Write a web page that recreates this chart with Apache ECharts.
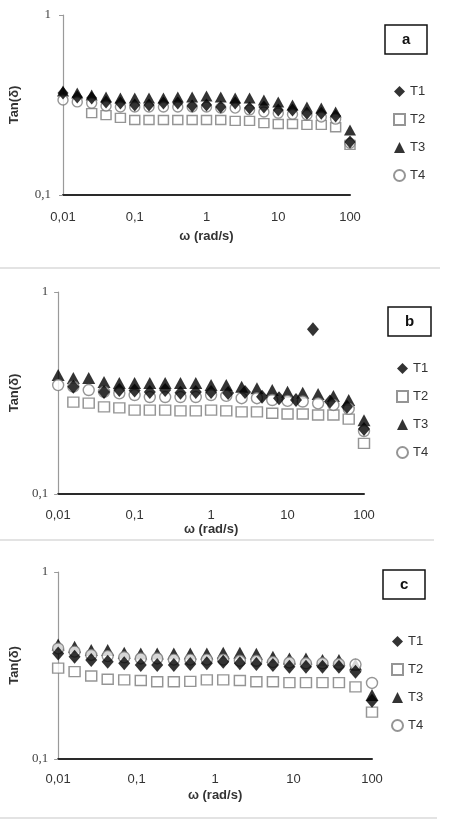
<!DOCTYPE html>
<html>
<head>
<meta charset="utf-8">
<script src="https://cdn.jsdelivr.net/npm/echarts@6/dist/echarts.min.js"></script>
<style>
  html, body { margin: 0; padding: 0; background: #fff; }
  #chart { width: 450px; height: 824px; }
</style>
</head>
<body>
<div id="chart"></div>
<script>
// frequency sweep (rad/s)
var omega = [0.01, 0.0158, 0.0251, 0.0398, 0.0631, 0.1, 0.158, 0.251, 0.398, 0.631, 1, 1.58, 2.51, 3.98, 6.31, 10, 15.8, 25.1, 39.8, 63.1, 100];
var omegaT1b = [0.01, 0.0158, 0.0251, 0.0398, 0.0631, 0.1, 0.158, 0.251, 0.398, 0.631, 1, 1.67, 2.78, 4.64, 7.74, 12.9, 21.5, 35.9, 59.9, 100];
var omegaC = [0.01, 0.0162, 0.0264, 0.0428, 0.0695, 0.113, 0.183, 0.298, 0.483, 0.785, 1.27, 2.07, 3.36, 5.46, 8.86, 14.4, 23.4, 37.9, 61.6, 100];

var seriesNames = ['T1', 'T2', 'T3', 'T4'];
var panelLabels = ['a', 'b', 'c'];
var xTickLabels = ['0,01', '0,1', '1', '10', '100'];
var yTickLabels = ['0,1', '1'];

// panel a
var a_T1 = [0.369, 0.350, 0.346, 0.329, 0.324, 0.316, 0.316, 0.324, 0.324, 0.312, 0.316, 0.308, 0.324, 0.304, 0.308, 0.297, 0.297, 0.285, 0.285, 0.275, 0.197];
var a_T2 = [null, null, 0.285, 0.278, 0.268, 0.261, 0.261, 0.261, 0.261, 0.261, 0.261, 0.261, 0.258, 0.258, 0.251, 0.248, 0.248, 0.245, 0.245, 0.238, 0.190];
var a_T3 = [0.378, 0.369, 0.359, 0.350, 0.346, 0.346, 0.346, 0.346, 0.350, 0.350, 0.355, 0.350, 0.346, 0.346, 0.337, 0.329, 0.316, 0.308, 0.304, 0.289, 0.230];
var a_T4 = [0.337, 0.329, 0.324, 0.312, 0.308, 0.308, 0.308, 0.308, 0.308, 0.308, 0.308, 0.304, 0.304, 0.297, 0.289, 0.285, 0.281, 0.278, 0.271, 0.264, 0.194];

// panel b
var b_T1 = [null, 0.340, null, 0.320, 0.327, 0.325, 0.320, 0.327, 0.317, 0.320, 0.320, 0.316, 0.320, 0.303, 0.298, 0.292, 0.654, 0.287, 0.270, 0.210];
var b_T2 = [null, 0.285, 0.282, 0.270, 0.267, 0.260, 0.260, 0.260, 0.258, 0.258, 0.260, 0.258, 0.255, 0.255, 0.251, 0.249, 0.249, 0.246, 0.246, 0.235, 0.178];
var b_T3 = [0.388, 0.375, 0.375, 0.358, 0.354, 0.354, 0.354, 0.354, 0.354, 0.354, 0.346, 0.346, 0.340, 0.334, 0.327, 0.321, 0.317, 0.313, 0.306, 0.292, 0.232];
var b_T4 = [0.346, 0.340, 0.327, 0.320, 0.315, 0.309, 0.302, 0.302, 0.302, 0.302, 0.309, 0.306, 0.298, 0.298, 0.292, 0.289, 0.287, 0.281, 0.276, 0.264, 0.205];

// panel c
var c_T1 = [0.367, 0.352, 0.338, 0.331, 0.325, 0.318, 0.318, 0.318, 0.322, 0.325, 0.331, 0.325, 0.322, 0.318, 0.311, 0.311, 0.311, 0.311, 0.293, 0.205];
var c_T2 = [0.306, 0.293, 0.278, 0.267, 0.265, 0.263, 0.259, 0.259, 0.260, 0.265, 0.265, 0.263, 0.259, 0.259, 0.256, 0.256, 0.256, 0.256, 0.243, 0.178];
var c_T3 = [0.410, 0.398, 0.383, 0.383, 0.370, 0.367, 0.367, 0.367, 0.367, 0.367, 0.370, 0.370, 0.365, 0.352, 0.345, 0.345, 0.338, 0.338, 0.320, 0.220];
var c_T4 = [0.390, 0.375, 0.360, 0.355, 0.350, 0.345, 0.345, 0.340, 0.340, 0.340, 0.340, 0.335, 0.335, 0.330, 0.328, 0.325, 0.325, 0.322, 0.320, 0.255];

function pairs(xs, ys) {
	var out = [];
	for (var i = 0; i < ys.length; i++) {
		if (ys[i] != null) out.push([xs[i], ys[i]]);
	}
	return out;
}

var panels = [
	{ grid: { left: 62, top: 15, width: 288, height: 180 }, xGap: 35, yGap: 42, xMargin: 16, yMargin: 12,
	  data: [pairs(omega, a_T1), pairs(omega, a_T2), pairs(omega, a_T3), pairs(omega, a_T4)],
	  box: { left: 385, top: 25 }, legendTop: 80, sym: 11 },
	{ grid: { left: 40, top: 292, width: 324, height: 202 }, xGap: 26, yGap: 26, xMargin: 15, yMargin: 10,
	  data: [pairs(omegaT1b, b_T1), pairs(omega, b_T2), pairs(omega, b_T3), pairs(omega, b_T4)],
	  box: { left: 388, top: 307 }, legendTop: 357, sym: 12 },
	{ grid: { left: 43, top: 572, width: 329, height: 187 }, xGap: 30, yGap: 29, xMargin: 14, yMargin: 10,
	  data: [pairs(omegaC, c_T1), pairs(omegaC, c_T2), pairs(omegaC, c_T3), pairs(omegaC, c_T4)],
	  box: { left: 383, top: 570 }, legendTop: 630, sym: 12 }
];

var symbols = ['diamond', 'rect', 'triangle', 'circle'];
var zOrder = [5, 2, 3, 4];

function markerStyle(k) {
	if (k == 0 || k == 2) return { color: '#000', borderColor: '#000', borderWidth: 0 };
	return { color: '#fff', borderColor: '#7a7a7a', borderWidth: 1.4 };
}
function symSize(k, s) {
	if (k == 0) return [s, s + 2];
	if (k == 1) return [s - 1, s - 2];
	if (k == 2) return [s + 1, s];
	return s - 1;
}

var option = { animation: false, backgroundColor: '#fff', grid: [], xAxis: [], yAxis: [], series: [], legend: [], title: [],
	graphic: [
		{ type: 'line', shape: { x1: 0, y1: 268, x2: 440, y2: 268 }, style: { stroke: '#e3e3e3', lineWidth: 2 } },
		{ type: 'line', shape: { x1: 0, y1: 540, x2: 434, y2: 540 }, style: { stroke: '#e3e3e3', lineWidth: 2 } },
		{ type: 'line', shape: { x1: 0, y1: 818, x2: 437, y2: 818 }, style: { stroke: '#e3e3e3', lineWidth: 2 } }
	]
};

panels.forEach(function(p, i){
	option.grid.push(p.grid);
	option.xAxis.push({
		type: 'log', logBase: 10, min: 0.01, max: 100, gridIndex: i,
		name: 'ω (rad/s)', nameLocation: 'middle', nameGap: p.xGap,
		nameTextStyle: { fontFamily: 'Liberation Sans', fontWeight: 'bold', fontSize: 13, color: '#333' },
		axisLine: { lineStyle: { color: '#2a2a2a', width: 2 } },
		axisTick: { show: false },
		splitLine: { show: false },
		minorTick: { show: false },
		axisLabel: {
			margin: p.xMargin, fontFamily: 'Liberation Sans', fontSize: 13, color: '#333',
			formatter: function(v){ return xTickLabels[Math.round(Math.log10(v)) + 2]; }
		}
	});
	option.yAxis.push({
		type: 'log', logBase: 10, min: 0.1, max: 1, gridIndex: i,
		name: 'Tan(δ)', nameLocation: 'middle', nameRotate: 90, nameGap: p.yGap,
		nameTextStyle: { fontFamily: 'Liberation Sans', fontWeight: 'bold', fontSize: 13, color: '#333' },
		axisLine: { show: true, lineStyle: { color: '#9a9a9a', width: 1.2 } },
		axisTick: { show: true, length: 4, lineStyle: { color: '#9a9a9a' } },
		splitLine: { show: false },
		axisLabel: {
			margin: p.yMargin, fontFamily: 'Liberation Serif', fontSize: 13, color: '#444',
			formatter: function(v){ return yTickLabels[Math.round(Math.log10(v)) + 1]; }
		}
	});
	seriesNames.forEach(function(name, k){
		option.series.push({
			type: 'scatter', name: name, xAxisIndex: i, yAxisIndex: i,
			symbol: symbols[k], symbolSize: symSize(k, p.sym), z: zOrder[k],
			itemStyle: markerStyle(k),
			emphasis: { disabled: true },
			data: p.data[k]
		});
	});
	option.legend.push({
		data: seriesNames, orient: 'vertical', left: p.box.left + 3, top: p.legendTop,
		itemWidth: 11, itemHeight: 11, itemGap: 15, selectedMode: false,
		textStyle: { fontFamily: 'Liberation Sans', fontSize: 13, color: '#333' }
	});
	option.title.push({
		text: panelLabels[i], left: p.box.left, top: p.box.top,
		padding: [7, 17, 7, 17], borderColor: '#111', borderWidth: 1.5, backgroundColor: '#fff',
		textStyle: { fontFamily: 'Liberation Sans', fontWeight: 'bold', fontSize: 15, color: '#111' }
	});
});

var chart = echarts.init(document.getElementById('chart'));
chart.setOption(option);
window.onresize = function() {
	chart.resize();
};
</script>
</body>
</html>
